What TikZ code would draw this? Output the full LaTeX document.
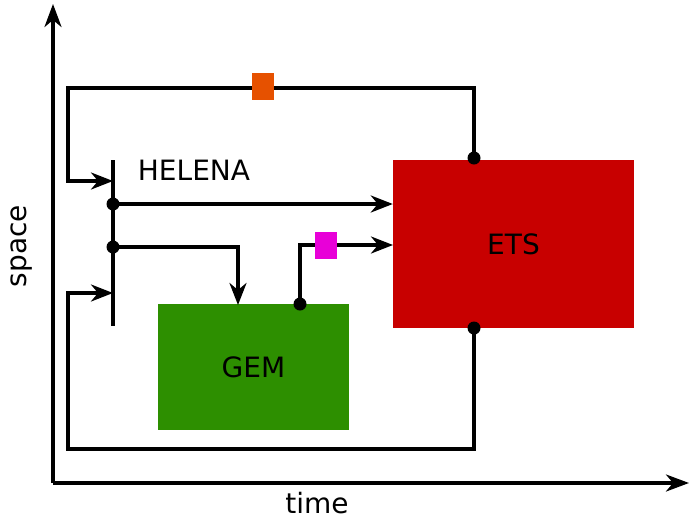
\documentclass[tikz,border=0pt]{standalone}
\usepackage{fontspec}
\setmainfont{DejaVu Sans}
\usetikzlibrary{arrows.meta,positioning,calc}

\definecolor{etsred}{HTML}{C80000}
\definecolor{gemgreen}{HTML}{2D8F00}
\definecolor{tagorange}{HTML}{E65100}
\definecolor{tagmagenta}{HTML}{E800D8}

\tikzset{
    flow/.style={line width=3.4pt, -{Stealth[length=22pt,width=17pt,inset=7pt]}},
    link/.style={line width=3.4pt},
    axis/.style={line width=3.4pt, -{Stealth[length=23pt,width=17pt,inset=7pt]}},
    block/.style={draw=none, inner sep=0pt, font=\fontsize{28}{32}\selectfont},
    tag/.style={draw=none, inner sep=0pt, minimum width=22pt, minimum height=27pt},
    lbl/.style={font=\fontsize{28}{32}\selectfont, inner sep=0pt},
    jdot/.style={circle, fill=black, inner sep=0pt, minimum size=13pt}
}

\begin{document}
\begin{tikzpicture}[x=1pt, y=-1pt]
    \useasboundingbox (0,0) rectangle (689,520);

    % --- Axes ---
    \coordinate (origin) at (53,483);
    \coordinate (ytip) at (53,4);
    \coordinate (xtip) at (689,483);
    \draw[axis] (origin) -- (ytip);
    \draw[axis] (origin) -- (xtip);
    \node[lbl, rotate=90] (space) at (22,246) {space};
    \node[lbl] (time) at (317,503) {time};

    % --- Blocks ---
    \node[block, fill=etsred, minimum width=241pt, minimum height=168pt] (ets) at (513.5,244) {ETS};
    \node[block, fill=gemgreen, minimum width=191pt, minimum height=126pt] (gem) at (253.5,367) {GEM};

    % --- HELENA bar ---
    \coordinate (htop) at (113,160);
    \coordinate (hbot) at (113,326);
    \draw[link] (htop) -- (hbot);
    \node[lbl] (helena) at (194,170) {HELENA};

    % Junctions
    \node[jdot] (h1) at (113,204) {};
    \node[jdot] (h2) at (113,247) {};
    \node[jdot] (etstop) at (474,158) {};
    \node[jdot] (etsbot) at (474,328) {};
    \node[jdot] (gemout) at (300,304) {};

    % Ends on the bar and on the blocks
    \coordinate (hin1) at (113,181);
    \coordinate (hin2) at (113,293);
    \coordinate (gemin) at (238,305);
    \coordinate (etsin) at (393,245);
    \coordinate (loopTL) at (68,88);
    \coordinate (loopBL) at (68,449);

    % --- Feedback loops ---
    \draw[flow] (etstop.center) |- (loopTL) |- (hin1);
    \draw[flow] (etsbot.center) |- (loopBL) |- (hin2);

    % --- Forward paths ---
    \draw[flow] (h1.center) -- (h1 -| ets.west);
    \draw[flow] (h2.center) -| (gemin);
    \draw[flow] (gemout.center) |- (etsin);

    % Tags on the lines
    \node[tag, fill=tagorange] (tagtop) at (263,86) {};
    \node[tag, fill=tagmagenta] (tagmid) at (326,245) {};
\end{tikzpicture}
\end{document}
